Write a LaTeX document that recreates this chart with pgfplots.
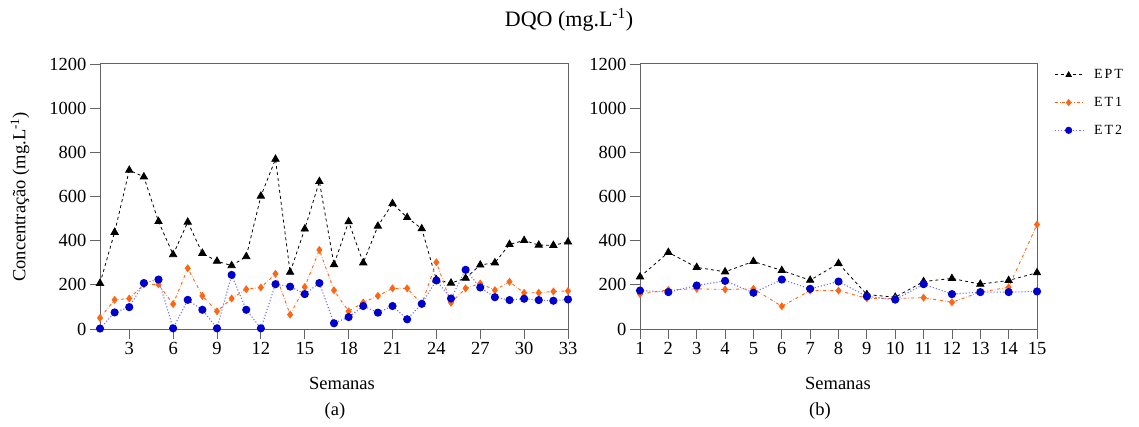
\documentclass[border=0pt]{standalone}
\usepackage{fontspec}
\setmainfont{Liberation Serif}
\newfontfamily\legfont[LetterSpace=14]{Liberation Serif}
\usepackage{pgfplots}
\pgfplotsset{compat=1.18}

\definecolor{et1c}{RGB}{255,102,20}
\definecolor{et2m}{RGB}{0,0,204}
\definecolor{et2l}{RGB}{110,110,255}
\definecolor{axc}{RGB}{100,100,100}

\pgfplotsset{
  myax/.style={
    scale only axis, height=265pt, ymin=0, ymax=1200, ytick={0,200,...,1200},
    tick align=outside, major tick length=10pt, tick pos=left,
    tick style={axc, line width=0.8pt},
    axis line style={axc, line width=1pt},
    ticklabel style={font=\fontsize{18.5}{20}\selectfont},
    /pgf/number format/assume math mode=true,
    /pgf/number format/set thousands separator={},
    clip=false,
  },
  ept/.style={black, dashed, line width=0.8pt, mark=triangle*, mark size=4.2pt, mark options={solid, fill=black}},
  et1/.style={et1c, dash dot, line width=0.9pt, mark=diamond*, mark size=3.3pt, mark options={solid, fill=et1c}},
  et2/.style={et2l, dotted, line width=1.1pt, mark=*, mark size=3.5pt, mark options={solid, fill=et2m, draw=et2m}},
}

\begin{document}
\begin{tikzpicture}
\path[use as bounding box] (0,0) rectangle (1139pt,426pt);

\begin{axis}[myax, width=468pt, at={(100pt,97pt)}, anchor=south west,
  xmin=1, xmax=33, xtick={3,6,...,33}]
\addplot[ept] coordinates {
(1,207)(2,438)(3,719)(4,689)(5,487)(6,337)(7,484)(8,343)(9,307)(10,287)(11,328)
(12,602)(13,769)(14,257)(15,453)(16,668)(17,292)(18,486)(19,300)(20,466)(21,568)
(22,505)(23,454)(24,223)(25,208)(26,230)(27,290)(28,300)(29,383)(30,401)(31,380)(32,379)(33,394)};
\addplot[et1] coordinates {
(1,50)(2,132)(3,138)(4,202)(5,202)(6,113)(7,275)(8,150)(9,80)(10,138)(11,180)
(12,188)(13,250)(14,65)(15,190)(16,358)(17,175)(18,80)(19,120)(20,150)(21,184)
(22,184)(23,114)(24,302)(25,119)(26,184)(27,206)(28,176)(29,214)(30,164)(31,164)(32,170)(33,172)};
\addplot[et2] coordinates {
(1,2)(2,75)(3,99)(4,208)(5,224)(6,3)(7,132)(8,87)(9,3)(10,245)(11,87)
(12,3)(13,203)(14,192)(15,158)(16,208)(17,26)(18,54)(19,104)(20,74)(21,104)
(22,44)(23,114)(24,220)(25,138)(26,268)(27,188)(28,144)(29,131)(30,137)(31,131)(32,128)(33,134)};
\end{axis}

\begin{axis}[myax, width=397pt, at={(640pt,97pt)}, anchor=south west,
  xmin=1, xmax=15, xtick={1,...,15},
  legend cell align=left,
  legend style={draw=none, fill=none, at={(axis description cs:1.035,0.995)}, anchor=north west,
    font=\legfont\fontsize{14}{16}\selectfont, row sep=13pt, column sep=9pt},
  legend image code/.code={\draw[mark repeat=2, mark phase=2, mark size=3pt] plot coordinates {(0pt,0pt)(14pt,0pt)(28pt,0pt)};}]
\addplot[ept] coordinates {
(1,236)(2,347)(3,279)(4,259)(5,306)(6,265)(7,221)(8,297)(9,156)(10,144)(11,215)(12,229)(13,203)(14,220)(15,255)};
\addplot[et1] coordinates {
(1,158)(2,177)(3,182)(4,179)(5,182)(6,103)(7,174)(8,174)(9,139)(10,138)(11,142)(12,121)(13,167)(14,189)(15,473)};
\addplot[et2] coordinates {
(1,174)(2,167)(3,197)(4,218)(5,164)(6,224)(7,182)(8,215)(9,148)(10,133)(11,203)(12,158)(13,167)(14,167)(15,170)};
\legend{EPT, ET1, ET2}
\end{axis}

\node[font=\fontsize{22}{24}\selectfont] at (569pt,406pt) {DQO (mg.L\textsuperscript{-1})};
\node[font=\fontsize{18.5}{20}\selectfont, rotate=90] at (20pt,229pt) {Concentração (mg.L\textsuperscript{-1})};
\node[font=\fontsize{18.5}{20}\selectfont] at (342pt,43pt) {Semanas};
\node[font=\fontsize{18.5}{20}\selectfont] at (335pt,15pt) {(a)};
\node[font=\fontsize{18.5}{20}\selectfont] at (838pt,43pt) {Semanas};
\node[font=\fontsize{18.5}{20}\selectfont] at (820pt,15pt) {(b)};
\end{tikzpicture}
\end{document}
